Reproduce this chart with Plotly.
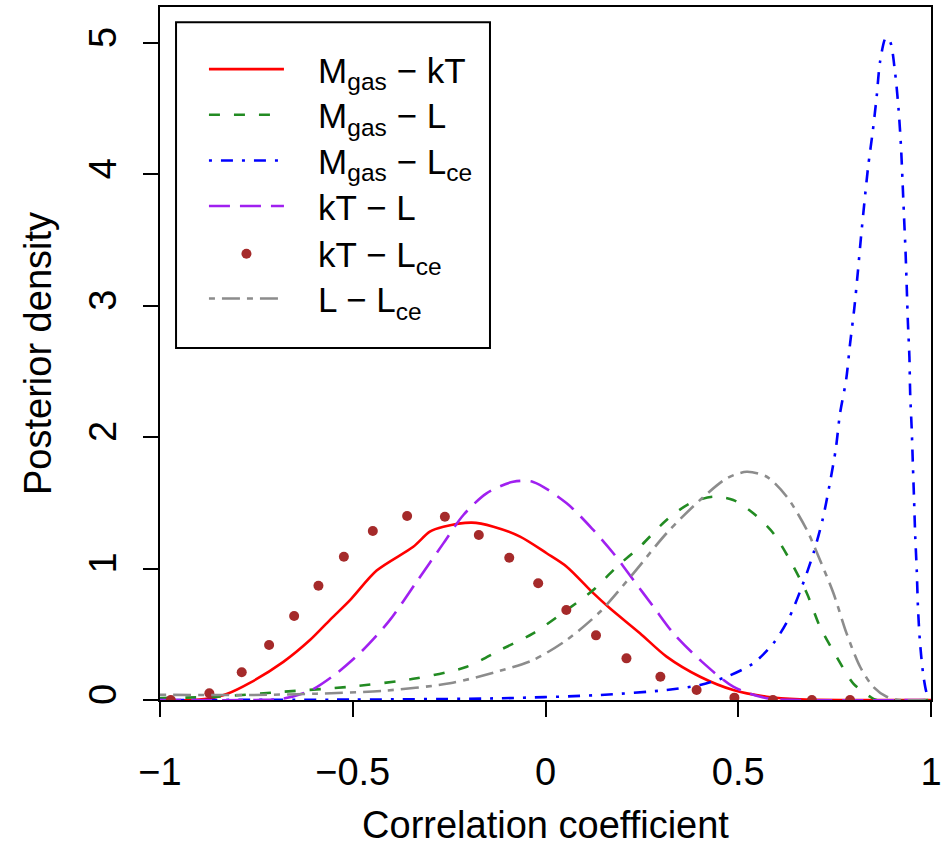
import plotly.graph_objects as go

# Posterior densities of the correlation coefficients
mkt_x = [-1.0, -0.914, -0.860, -0.827, -0.767, -0.680, -0.611, -0.559, -0.507, -0.438,
         -0.343, -0.300, -0.265, -0.191, -0.135, -0.066, 0.003, 0.055, 0.124, 0.167,
         0.245, 0.314, 0.401, 0.487, 0.574, 0.660, 0.790, 1.0]
mkt_y = [0.0, 0.0, 0.018, 0.045, 0.130, 0.290, 0.456, 0.610, 0.760, 0.985,
         1.166, 1.281, 1.318, 1.350, 1.319, 1.243, 1.117, 1.015, 0.813, 0.698,
         0.508, 0.330, 0.177, 0.076, 0.025, 0.005, 0.0, 0.0]

ml_x = [-1.0, -0.853, -0.680, -0.507, -0.334, -0.204, -0.118, -0.032, 0.055, 0.124,
        0.185, 0.245, 0.314, 0.375, 0.435, 0.487, 0.539, 0.591, 0.634, 0.678,
        0.712, 0.755, 0.798, 0.842, 0.859, 1.0]
ml_y = [0.015, 0.025, 0.063, 0.101, 0.165, 0.253, 0.380, 0.507, 0.685, 0.837,
        1.014, 1.167, 1.370, 1.497, 1.547, 1.522, 1.421, 1.269, 1.065, 0.812,
        0.558, 0.330, 0.127, 0.025, 0.0, 0.0]

mlce_x = [-1.0, -0.507, -0.118, 0.141, 0.314, 0.401, 0.470, 0.539, 0.591, 0.630,
          0.665, 0.695, 0.719, 0.737, 0.753, 0.764, 0.780, 0.790, 0.801, 0.810,
          0.818, 0.827, 0.837, 0.849, 0.859, 0.868, 0.883, 0.894, 0.907, 0.916,
          0.922, 0.926, 0.930, 0.934, 0.937, 0.940, 0.944, 0.946, 0.950, 0.953,
          0.956, 0.959, 0.963, 0.966, 0.971, 0.980, 0.989, 0.998]
mlce_y = [0.0, 0.003, 0.013, 0.038, 0.076, 0.114, 0.177, 0.279, 0.431, 0.614,
          0.862, 1.116, 1.375, 1.640, 1.910, 2.180, 2.440, 2.710, 2.980, 3.250,
          3.510, 3.780, 4.060, 4.330, 4.590, 4.860, 5.040, 5.010, 4.770, 4.490,
          4.220, 3.960, 3.680, 3.410, 3.150, 2.880, 2.610, 2.330, 2.060, 1.790,
          1.530, 1.256, 0.990, 0.720, 0.457, 0.190, 0.050, 0.0]

ktl_x = [-1.0, -0.750, -0.681, -0.607, -0.542, -0.477, -0.406, -0.334, -0.265, -0.213,
         -0.153, -0.084, -0.032, 0.055, 0.124, 0.176, 0.228, 0.280, 0.332, 0.401,
         0.487, 0.574, 0.660, 1.0]
ktl_y = [0.0, 0.0, 0.010, 0.076, 0.203, 0.370, 0.600, 0.901, 1.192, 1.408,
         1.573, 1.661, 1.660, 1.497, 1.294, 1.117, 0.913, 0.710, 0.507, 0.304,
         0.101, 0.013, 0.0, 0.0]

ktlce_x = [-0.972, -0.872, -0.788, -0.717, -0.652, -0.589, -0.523, -0.448, -0.359, -0.261,
           -0.173, -0.094, -0.019, 0.054, 0.131, 0.210, 0.298, 0.392, 0.490, 0.590,
           0.691, 0.790]
ktlce_y = [0.0, 0.051, 0.211, 0.419, 0.639, 0.870, 1.090, 1.286, 1.400, 1.395,
           1.256, 1.083, 0.888, 0.685, 0.492, 0.317, 0.177, 0.076, 0.018, 0.0,
           0.0, 0.0]

llce_x = [-1.0, -0.767, -0.594, -0.421, -0.248, -0.118, -0.032, 0.055, 0.141, 0.228,
          0.314, 0.401, 0.470, 0.522, 0.574, 0.626, 0.678, 0.712, 0.747, 0.781,
          0.816, 0.850, 0.885, 0.920, 1.0]
llce_y = [0.040, 0.038, 0.048, 0.070, 0.127, 0.222, 0.304, 0.457, 0.670, 0.964,
          1.269, 1.522, 1.687, 1.737, 1.699, 1.547, 1.294, 1.065, 0.812, 0.507,
          0.253, 0.101, 0.025, 0.0, 0.0]

x_ticks = [-1, -0.5, 0, 0.5, 1]
x_tick_text = ["\u22121", "\u22120.5", "0", "0.5", "1"]
y_ticks = [0, 1, 2, 3, 4, 5]

FONT = "Liberation Sans, Arial, Helvetica, sans-serif"
LW = 2.6
PAD = "\u00a0\u00a0\u00a0"  # gap between legend sample and label

# one legend per entry so the rows are evenly spaced inside the frame
LEGEND_ROWS = ["legend", "legend2", "legend3", "legend4", "legend5", "legend6"]
ROW_Y = [0.910, 0.8441, 0.7782, 0.7124, 0.6436, 0.5790]

fig = go.Figure()

def curve(x, y, name, color, dash, row):
    fig.add_trace(go.Scatter(
        x=x, y=y, name=PAD + name, mode="lines", legend=LEGEND_ROWS[row],
        line=dict(color=color, width=LW, dash=dash, shape="spline", smoothing=0.8),
    ))

curve(mkt_x, mkt_y, "M<sub>gas</sub> \u2212 kT", "#FF0000", "solid", 0)
curve(ml_x, ml_y, "M<sub>gas</sub> \u2212 L", "#228B22", "11px,14px", 1)
curve(mlce_x, mlce_y, "M<sub>gas</sub> \u2212 L<sub>ce</sub>", "#0000FF", "3px,9px,12px,9px", 2)
curve(ktl_x, ktl_y, "kT \u2212 L", "#A020F0", "21px,10px", 3)
fig.add_trace(go.Scatter(
    x=ktlce_x, y=ktlce_y, name=PAD + "kT \u2212 L<sub>ce</sub>", legend=LEGEND_ROWS[4],
    mode="markers", marker=dict(color="#A52A2A", size=10),
))
curve(llce_x, llce_y, "L \u2212 L<sub>ce</sub>", "#8C8C8C", "6px,7px,18px,7px", 5)

axis_common = dict(
    showline=True, linecolor="black", linewidth=2, mirror=True,
    ticks="outside", ticklen=15, tickwidth=2, tickcolor="black",
    showgrid=False, zeroline=False, automargin=False,
    tickfont=dict(family=FONT, size=38, color="black"),
)

legend_style = dict(
    x=0.057, xanchor="left", yanchor="middle",
    borderwidth=0, bgcolor="rgba(0,0,0,0)",
    font=dict(family=FONT, size=35, color="black"),
    itemwidth=75,
)
legends = {key: dict(legend_style, y=yy) for key, yy in zip(LEGEND_ROWS, ROW_Y)}

fig.update_layout(
    width=943, height=846,
    margin=dict(l=160, r=12, t=7, b=146),
    paper_bgcolor="white", plot_bgcolor="white",
    font=dict(family=FONT, color="black"),
    showlegend=True,
    **legends,
    # frame around the legend entries
    shapes=[dict(
        type="rect", xref="paper", yref="paper",
        x0=0.0208, x1=0.428, y0=0.508, y1=0.978,
        line=dict(color="black", width=2), fillcolor="rgba(0,0,0,0)",
    )],
    xaxis=dict(
        range=[-1, 1], tickvals=x_ticks, ticktext=x_tick_text,
        title=dict(text="Correlation coefficient", font=dict(family=FONT, size=38), standoff=22),
        ticklabelstandoff=22,
        **axis_common,
    ),
    yaxis=dict(
        range=[0, 5.274], tickvals=y_ticks, tickangle=-90,
        title=dict(text="Posterior density", font=dict(family=FONT, size=38), standoff=18),
        ticklabelstandoff=12,
        **axis_common,
    ),
)

fig.write_html("out.html")
